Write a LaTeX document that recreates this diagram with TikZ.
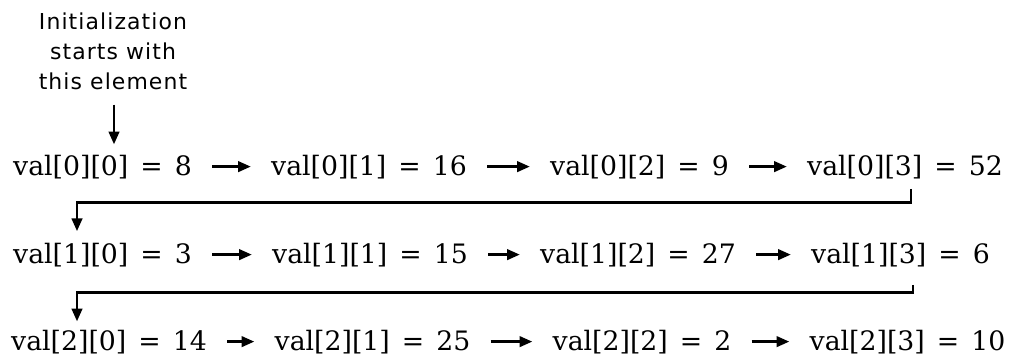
\documentclass[tikz,border=0pt]{standalone}
\usepackage{fontspec}
\setmainfont{DejaVu Serif}
\newfontfamily\notefont[LetterSpace=5]{DejaVu Sans}
\usetikzlibrary{arrows.meta,calc}
\newcommand{\aval}[3]{val[#1][#2]\hspace{0.45em}=\hspace{0.45em}#3}

\begin{document}
\begin{tikzpicture}[x=0.025cm, y=-0.025cm]
    \tikzset{
        elem/.style={
            inner sep=0pt, anchor=base,
            font=\fontsize{19}{22}\selectfont
        },
        note/.style={
            inner sep=0pt, align=center,
            font=\notefont\fontsize{15.6}{21.3}\selectfont
        },
        nxt/.style={
            -{Triangle[length=3.2mm, width=2.6mm]}, line width=2pt,
            shorten <=0.5cm, shorten >=0.5cm
        },
        wrap/.style={
            -{Triangle[length=3.2mm, width=2.6mm]}, line width=2pt
        },
    }
    \useasboundingbox (0,0) rectangle (1011,358);

    % ==== Start note ====
    \node[note] (note) at (113,51) {Initialization\\starts with\\this element};

    % ==== Row 0 ====
    \node[elem] (r00) at (102.5,175) {\aval{0}{0}{8}};
    \node[elem] (r01) at (369,175) {\aval{0}{1}{16}};
    \node[elem] (r02) at (639.5,175) {\aval{0}{2}{9}};
    \node[elem] (r03) at (905,175) {\aval{0}{3}{52}};

    % ==== Row 1 ====
    \node[elem] (r10) at (102.5,263) {\aval{1}{0}{3}};
    \node[elem] (r11) at (370,263) {\aval{1}{1}{15}};
    \node[elem] (r12) at (638,263) {\aval{1}{2}{27}};
    \node[elem] (r13) at (900.5,263) {\aval{1}{3}{6}};

    % ==== Row 2 ====
    \node[elem] (r20) at (109,350) {\aval{2}{0}{14}};
    \node[elem] (r21) at (372.5,350) {\aval{2}{1}{25}};
    \node[elem] (r22) at (642,350) {\aval{2}{2}{2}};
    \node[elem] (r23) at (907.5,350) {\aval{2}{3}{10}};

    % ==== Arrows ====
    \draw[wrap, shorten <=0.375cm, shorten >=0.25cm]
        ($(note.south)+(1,0)$) -- ($(note.south |- r00.north)+(1,0)$);
    \foreach \r in {0,1,2} {
        \draw[nxt] (r\r0.east) -- (r\r1.west);
        \draw[nxt] (r\r1.east) -- (r\r2.west);
        \draw[nxt] (r\r2.east) -- (r\r3.west);
    }
    \draw[wrap, shorten <=0.25cm, shorten >=0.28cm]
        ($(r03.south)+(6,0)$) -- ++(0,24) -| ($(r10.north)+(-25.5,0)$);
    \draw[wrap, shorten <=0.45cm, shorten >=0.2cm]
        ($(r13.south)+(12.5,0)$) -- ++(0,26) -| ($(r20.north)+(-32,0)$);

\end{tikzpicture}
\end{document}
